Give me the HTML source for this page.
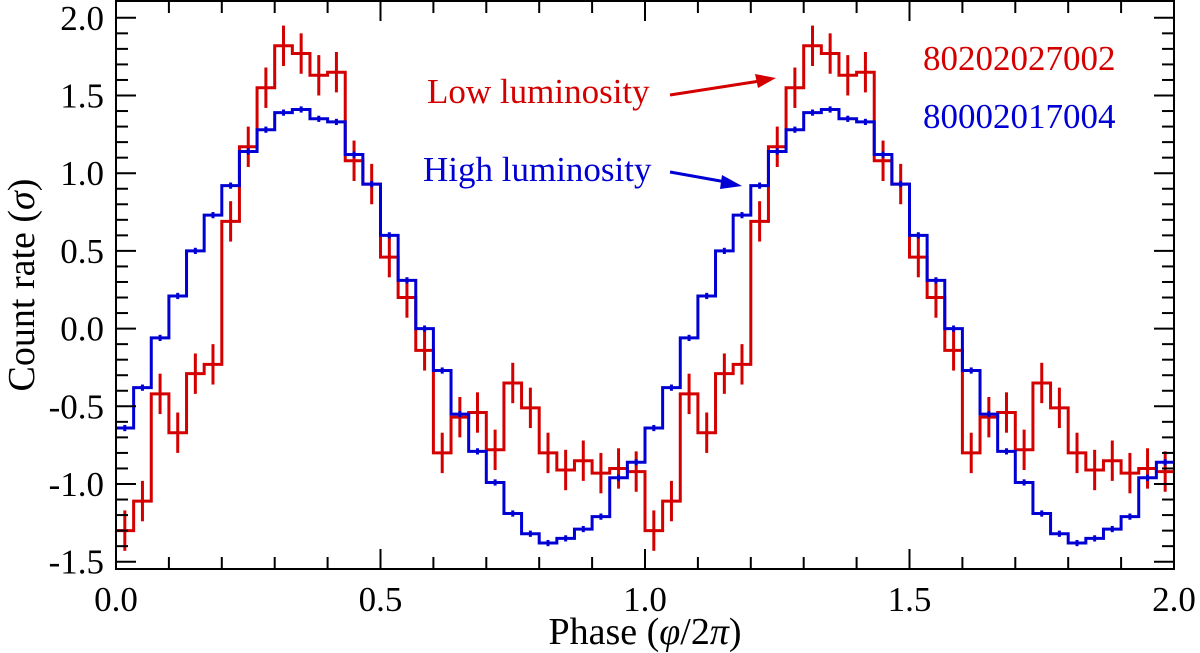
<!DOCTYPE html>
<html><head><meta charset="utf-8"><style>
body{margin:0;background:#fff;}
svg{display:block;font-family:"Liberation Serif",serif;}
</style></head><body>
<svg id="chart" width="1200" height="653">
<g id="marks"></g>
<g id="axes"></g>
<text x="427" y="103" fill="#d40000" font-size="35">Low luminosity</text>
<text x="423" y="181" fill="#0000d4" font-size="35">High luminosity</text>
<text x="923" y="70" fill="#d40000" font-size="35">80202027002</text>
<text x="923" y="128" fill="#0000d4" font-size="35">80002017004</text>
<g>
<line x1="670" y1="95" x2="760" y2="81" stroke="#d40000" stroke-width="3"/>
<polygon points="776,78 755,74 758,88" fill="#d40000"/>
</g>
<g>
<line x1="670" y1="172" x2="726" y2="182" stroke="#0000d4" stroke-width="3"/>
<polygon points="742,186 722,175 720,189" fill="#0000d4"/>
</g>
<text x="645" y="644" font-size="38" text-anchor="middle">Phase (<tspan font-style="italic">φ</tspan>/2<tspan font-style="italic">π</tspan>)</text>
<text transform="translate(34,285) rotate(-90)" font-size="38" text-anchor="middle">Count rate (<tspan font-style="italic">σ</tspan>)</text>
</svg>
<script>
const blueValues=[-0.64,-0.38,-0.06,0.21,0.50,0.73,0.92,1.14,1.28,1.39,1.41,1.35,1.33,1.12,0.93,0.60,0.31,0.00,-0.27,-0.55,-0.79,-0.99,-1.19,-1.32,-1.38,-1.35,-1.29,-1.21,-0.96,-0.86];
const redValues=[-1.30,-1.11,-0.42,-0.67,-0.29,-0.23,0.69,1.17,1.55,1.82,1.77,1.63,1.65,1.08,0.93,0.46,0.20,-0.14,-0.80,-0.57,-0.54,-0.78,-0.35,-0.51,-0.80,-0.91,-0.85,-0.93,-0.90,-0.92];
const blueErr=0.02;
const redErr=0.13;
const xTicks=["0.0","0.5","1.0","1.5","2.0"];
const yTicks=["-1.5","-1.0","-0.5","0.0","0.5","1.0","1.5","2.0"];
const X0=116,X1=1174,Y0=569,YT=1;
const xs=v=>X0+(X1-X0)*v/2;
const ys=v=>561.7-(v+1.5)*155.4;
const NS="http://www.w3.org/2000/svg";
const marks=document.getElementById('marks'),axes=document.getElementById('axes');
function mk(t,a,p){const e=document.createElementNS(NS,t);for(const k in a)e.setAttribute(k,a[k]);p.appendChild(e);return e;}
function drawSeries(vals,err,color,name){
  const n=vals.length,all=vals.concat(vals);const N=all.length;
  let d='';
  for(let i=0;i<N;i++){const xa=xs(2*i/N),xb=xs(2*(i+1)/N),y=ys(all[i]);d+=(i?'L':'M')+xa+','+y+'L'+xb+','+y;}
  const p=mk('path',{d:d,fill:'none',stroke:color,'stroke-width':3},marks);
  
  
  for(let i=0;i<N;i++){const xc=xs(2*(i+0.5)/N);
    const e=mk('line',{x1:xc,x2:xc,y1:ys(all[i]-err),y2:ys(all[i]+err),stroke:color,'stroke-width':3},marks);
    
    
  }
}
drawSeries(redValues,redErr,'#d40000','low-luminosity');
drawSeries(blueValues,blueErr,'#0000d4','high-luminosity');
const fr=mk('rect',{x:X0,y:YT,width:X1-X0,height:Y0-YT,fill:'none',stroke:'#000','stroke-width':2},axes);


for(let k=0;k<=20;k++){const x=xs(k/10),L=(k%5===0)?20:12;
  mk('line',{x1:x,x2:x,y1:Y0,y2:Y0-L,stroke:'#000','stroke-width':2},axes);
  mk('line',{x1:x,x2:x,y1:YT,y2:YT+L,stroke:'#000','stroke-width':2},axes);}
xTicks.forEach(t=>{const tx=mk('text',{x:xs(parseFloat(t)),y:611,'font-size':35,'text-anchor':'middle'},axes);tx.textContent=t;
  
  });
for(let k=-15;k<=20;k++){const y=ys(k/10),L=(k%5===0)?20:12;
  mk('line',{x1:X0,x2:X0+L,y1:y,y2:y,stroke:'#000','stroke-width':2},axes);
  mk('line',{x1:X1,x2:X1-L,y1:y,y2:y,stroke:'#000','stroke-width':2},axes);}
yTicks.forEach(t=>{const tx=mk('text',{x:104,y:ys(parseFloat(t))+12,'font-size':35,'text-anchor':'end'},axes);tx.textContent=t;
  
  });
</script>
</body></html>
